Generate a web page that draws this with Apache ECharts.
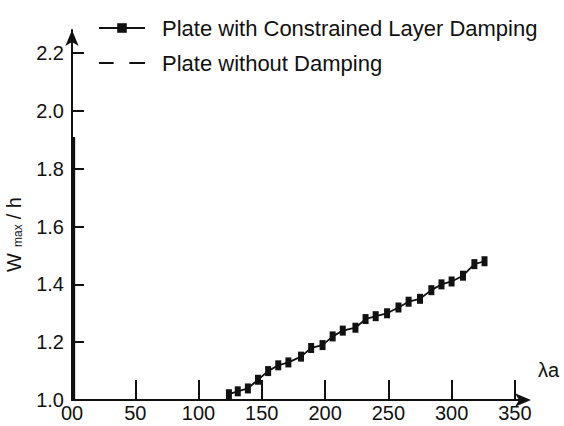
<!DOCTYPE html>
<html>
<head>
<meta charset="utf-8">
<title>Wmax/h - λa</title>
<script src="https://cdn.jsdelivr.net/npm/echarts@6/dist/echarts.min.js"></script>
<style>
    html, body { margin: 0; padding: 0; background: #fff; }
    #main { width: 564px; height: 426px; }
</style>
</head>
<body>
<div id="main"></div>
<script>
    // data
    var lambdaDamped = [124, 131, 139, 147, 155, 163, 171, 181, 189, 198, 206, 214, 224,
        232, 240, 249, 258, 266, 275, 284, 292, 300, 309, 318, 326];
    var wDamped = [1.02, 1.03, 1.04, 1.07, 1.10, 1.12, 1.13, 1.15, 1.18, 1.19, 1.22, 1.24, 1.25,
        1.28, 1.29, 1.30, 1.32, 1.34, 1.35, 1.38, 1.40, 1.41, 1.43, 1.47, 1.48];
    var lambdaUndamped = [1.5, 1.5];
    var wUndamped = [1.0, 1.91];

    var xTicks = [0, 50, 100, 150, 200, 250, 300, 350];
    var xTickLabels = ['00', '50', '100', '150', '200', '250', '300', '350'];
    var yTicks = [1.0, 1.2, 1.4, 1.6, 1.8, 2.0, 2.2];
    var yTickLabels = ['1.0', '1.2', '1.4', '1.6', '1.8', '2.0', '2.2'];

    var seriesNames = ['Plate with Constrained Layer Damping', 'Plate without Damping'];

    var font = '"Liberation Sans", Arial, Helvetica, sans-serif';
    var ink = '#111';

    function pairs(xs, ys) {
        var out = [];
        for (var i = 0; i < xs.length; i++) {
            out.push([xs[i], ys[i]]);
        }
        return out;
    }

    var chart = echarts.init(document.getElementById('main'), null, {renderer: 'svg'});

    var option = {
        backgroundColor: '#fff',
        animation: false,
        textStyle: {fontFamily: font, color: ink},
        legend: {
            orient: 'vertical',
            left: 98,
            top: 17,
            padding: 0,
            itemGap: 13,
            itemWidth: 46,
            itemHeight: 12,
            textStyle: {fontSize: 22, color: ink, fontFamily: font, padding: [0, 0, 0, 12]},
            data: [
                {name: seriesNames[0]},
                // two short dashes, like the printed key
                {name: seriesNames[1], icon: 'path://M0,0h14v2h-14z M29,0h15v2h-15z'}
            ]
        },
        grid: {
            left: 72,
            right: 39,
            top: 30,
            bottom: 26,
            containLabel: false,
            outerBoundsMode: 'none'
        },
        xAxis: {
            type: 'value',
            min: 0,
            max: 358,
            interval: 50,
            splitLine: {show: false},
            axisLine: {
                lineStyle: {color: ink, width: 2},
                symbol: ['none', 'arrow'],
                symbolSize: [10, 16],
                symbolOffset: [0, 6]
            },
            axisTick: {
                inside: true,
                length: 20,
                customValues: xTicks,
                lineStyle: {color: ink, width: 2}
            },
            axisLabel: {
                customValues: xTicks,
                margin: 3,
                fontSize: 20,
                lineHeight: 20,
                color: ink,
                fontFamily: font,
                formatter: function (v) {
                    var i = xTicks.indexOf(v);
                    return i < 0 ? '' : xTickLabels[i];
                }
            }
        },
        yAxis: {
            type: 'value',
            min: 1.0,
            max: 2.28,
            interval: 0.2,
            name: '{w|W}{s|max}{w|/ h}',
            nameLocation: 'middle',
            nameRotate: 90,
            nameGap: 48,
            nameTextStyle: {
                padding: [0, 36, 0, 0],
                rich: {
                    w: {fontSize: 20, color: ink, fontFamily: font, padding: [0, 3, 0, 0]},
                    s: {fontSize: 12, color: ink, fontFamily: font, verticalAlign: 'bottom', padding: [6, 5, 0, 3]}
                }
            },
            splitLine: {show: false},
            axisLine: {
                lineStyle: {color: ink, width: 2},
                symbol: ['none', 'arrow'],
                symbolSize: [10, 16],
                symbolOffset: [0, 0]
            },
            axisTick: {
                inside: true,
                length: 12,
                customValues: yTicks,
                lineStyle: {color: ink, width: 2}
            },
            axisLabel: {
                customValues: yTicks,
                margin: 8,
                fontSize: 20,
                color: ink,
                fontFamily: font,
                formatter: function (v) {
                    for (var i = 0; i < yTicks.length; i++) {
                        if (Math.abs(yTicks[i] - v) < 1e-6) return yTickLabels[i];
                    }
                    return '';
                }
            }
        },
        graphic: [
            {
                type: 'text',
                left: 538,
                top: 360,
                style: {text: 'λa', fontSize: 20, fill: ink, fontFamily: font}
            }
        ],
        series: [
            {
                name: seriesNames[0],
                type: 'line',
                symbol: 'rect',
                symbolSize: [6, 10],
                itemStyle: {color: ink},
                lineStyle: {color: ink, width: 1.8},
                data: pairs(lambdaDamped, wDamped)
            },
            {
                name: seriesNames[1],
                type: 'line',
                symbol: 'none',
                itemStyle: {color: ink},
                lineStyle: {color: ink, width: 2.5},
                data: pairs(lambdaUndamped, wUndamped)
            }
        ]
    };

    chart.setOption(option);
</script>
</body>
</html>
